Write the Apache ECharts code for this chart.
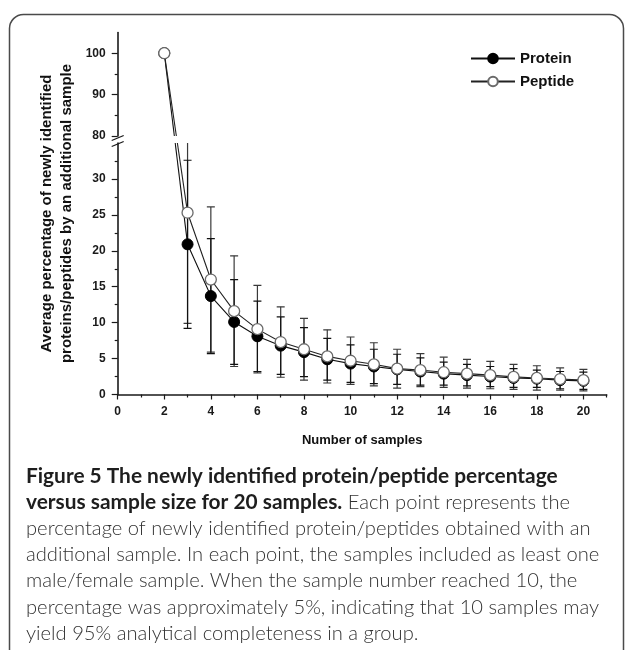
<!DOCTYPE html>
<html><head><meta charset="utf-8">
<script src="https://cdn.jsdelivr.net/npm/echarts@6/dist/echarts.min.js"></script>
<style>html,body{margin:0;padding:0;background:#fff}#c{width:625px;height:650px}</style>
</head><body><div id="c"></div>
<script>
// ---- data ----
const samples     = [2, 3, 4, 5, 6, 7, 8, 9, 10, 11, 12, 13, 14, 15, 16, 17, 18, 19, 20];
const proteinMean = [100, 20.9, 13.7, 10.1, 8.1, 6.8, 5.9, 4.9, 4.3, 3.9, 3.5, 3.2, 2.9, 2.7, 2.5, 2.3, 2.2, 2.0, 1.9];
const peptideMean = [100, 25.3, 16.0, 11.6, 9.1, 7.3, 6.3, 5.3, 4.7, 4.2, 3.6, 3.4, 3.1, 2.9, 2.7, 2.45, 2.3, 2.15, 2.0];
const proteinSD   = [0, 11.7, 8.0, 5.9, 4.9, 4.0, 3.4, 2.9, 2.6, 2.4, 2.1, 1.9, 1.6, 1.5, 1.4, 1.3, 1.2, 1.2, 1.2];
const peptideSD   = [0, 15.4, 10.1, 7.7, 6.1, 4.9, 4.3, 3.7, 3.3, 3.0, 2.7, 2.3, 2.1, 2.0, 1.9, 1.75, 1.7, 1.55, 1.5];
const seriesNames = ['Protein', 'Peptide'];
const xTickLabels = [0, 2, 4, 6, 8, 10, 12, 14, 16, 18, 20];
const xMinorTicks = [1, 3, 5, 7, 9, 11, 13, 15, 17, 19, 21];
const yUpperLabels = [80, 90, 100];
const yUpperMinor  = [85, 95];
const yLowerLabels = [0, 5, 10, 15, 20, 25, 30];
const yLowerMinor  = [2.5, 7.5, 12.5, 17.5, 22.5, 27.5, 32.5];
const upperRange = [80, 105];
const lowerRange = [0, 35];
const xRange = [0, 21];
const xTitle = 'Number of samples';
const yTitle = ['Average percentage of newly identified', 'proteins/peptides by an additional sample'];
const captionLines = [
  [['b', 'Figure 5 The newly identified protein/peptide percentage']],
  [['b', 'versus sample size for 20 samples.'], ['n', ' Each point represents the']],
  [['n', 'percentage of newly identified protein/peptides obtained with an']],
  [['n', 'additional sample. In each point, the samples included as least one']],
  [['n', 'male/female sample. When the sample number reached 10, the']],
  [['n', 'percentage was approximately 5%, indicating that 10 samples may']],
  [['n', 'yield 95% analytical completeness in a group.']]
];

// ---- helpers ----
const AX = 'Liberation Sans';
const CAPF = 'Lato';
const pts = m => samples.map((x, i) => [x, m[i]]);
const inUpper = p => p[1] >= upperRange[0];
const inLower = p => p[1] <= lowerRange[1];
const errData = (m, sd) => samples.map((x, i) => [x, m[i] - sd[i], m[i] + sd[i], sd[i]]).filter(d => d[3] > 0);

function errItem(color) {
  return function (params, api) {
    const x = api.value(0), lo = api.value(1), hi = api.value(2);
    const a = api.coord([x, lo]), b = api.coord([x, hi]);
    const hw = 4, st = { stroke: color, lineWidth: 1.2 };
    return { type: 'group', children: [
      { type: 'line', shape: { x1: a[0], y1: a[1], x2: b[0], y2: b[1] }, style: st },
      { type: 'line', shape: { x1: a[0] - hw, y1: a[1], x2: a[0] + hw, y2: a[1] }, style: st },
      { type: 'line', shape: { x1: b[0] - hw, y1: b[1], x2: b[0] + hw, y2: b[1] }, style: st }
    ]};
  };
}

const protStyle = { symbol: 'circle', symbolSize: 11, itemStyle: { color: '#000', borderColor: '#000', borderWidth: 1 }, lineStyle: { color: '#111', width: 1.1 } };
const pepStyle  = { symbol: 'circle', symbolSize: 11, itemStyle: { color: '#fff', borderColor: '#6a6a6a', borderWidth: 1.3 }, lineStyle: { color: '#222', width: 1.1 } };

const axisLineStyle = { show: true, lineStyle: { color: '#1a1a1a', width: 1.6 } };
const lblStyle = { fontFamily: AX, fontWeight: 'bold', fontSize: 12, color: '#1a1a1a' };

const chart = echarts.init(document.getElementById('c'), null, { renderer: 'canvas' });

const option = {
  animation: false,
  backgroundColor: '#fff',
  grid: [
    { left: 117.7, right: 18.3, top: 32.5, height: 103.5 },
    { left: 117.7, right: 18.3, top: 143, height: 251.5 }
  ],
  legend: {
    data: seriesNames, orient: 'vertical', left: 465, top: 46,
    itemWidth: 44, itemHeight: 12, itemGap: 8,
    textStyle: { fontFamily: AX, fontWeight: 'bold', fontSize: 15, color: '#111' }
  },
  xAxis: [
    { gridIndex: 0, type: 'value', min: xRange[0], max: xRange[1], show: false },
    { gridIndex: 1, type: 'value', min: xRange[0], max: xRange[1], position: 'bottom',
      axisLine: axisLineStyle, splitLine: { show: false },
      axisTick: { show: true, length: 5, customValues: xTickLabels, lineStyle: { color: '#1a1a1a', width: 1.2 } },
      axisLabel: Object.assign({ customValues: xTickLabels, margin: 11 }, lblStyle),
      name: xTitle, nameLocation: 'middle', nameGap: 39,
      nameTextStyle: { fontFamily: AX, fontWeight: 'bold', fontSize: 13, color: '#111' } },
    { gridIndex: 1, type: 'value', min: xRange[0], max: xRange[1], position: 'bottom', offset: 0,
      axisLine: { show: false }, splitLine: { show: false },
      axisTick: { show: true, length: 3, customValues: xMinorTicks, lineStyle: { color: '#1a1a1a', width: 1.2 } },
      axisLabel: { show: false } }
  ],
  yAxis: [
    { gridIndex: 0, type: 'value', position: 'left', min: upperRange[0], max: upperRange[1],
      axisLine: axisLineStyle, splitLine: { show: false },
      axisTick: { show: true, length: 6, customValues: yUpperLabels, lineStyle: { color: '#1a1a1a', width: 1.2 } },
      axisLabel: Object.assign({ customValues: yUpperLabels, margin: 12 }, lblStyle) },
    { gridIndex: 0, type: 'value', position: 'left', offset: 0, min: upperRange[0], max: upperRange[1],
      axisLine: { show: false }, splitLine: { show: false },
      axisTick: { show: true, length: 3, customValues: yUpperMinor, lineStyle: { color: '#1a1a1a', width: 1.2 } },
      axisLabel: { show: false } },
    { gridIndex: 1, type: 'value', position: 'left', min: lowerRange[0], max: lowerRange[1],
      axisLine: axisLineStyle, splitLine: { show: false },
      axisTick: { show: true, length: 6, customValues: yLowerLabels, lineStyle: { color: '#1a1a1a', width: 1.2 } },
      axisLabel: Object.assign({ customValues: yLowerLabels, margin: 12 }, lblStyle) },
    { gridIndex: 1, type: 'value', position: 'left', offset: 0, min: lowerRange[0], max: lowerRange[1],
      axisLine: { show: false }, splitLine: { show: false },
      axisTick: { show: true, length: 3, customValues: yLowerMinor, lineStyle: { color: '#1a1a1a', width: 1.2 } },
      axisLabel: { show: false } }
  ],
  series: [
    { type: 'custom', name: 'pepErr', xAxisIndex: 1, yAxisIndex: 2, clip: true, z: 1,
      renderItem: errItem('#3a3a3a'), encode: { x: 0, y: [1, 2] }, data: errData(peptideMean, peptideSD) },
    { type: 'custom', name: 'protErr', xAxisIndex: 1, yAxisIndex: 2, clip: true, z: 1,
      renderItem: errItem('#111'), encode: { x: 0, y: [1, 2] }, data: errData(proteinMean, proteinSD) },
    Object.assign({ type: 'line', name: seriesNames[0], xAxisIndex: 1, yAxisIndex: 2, z: 3, data: pts(proteinMean).filter(inLower) }, protStyle),
    Object.assign({ type: 'line', name: seriesNames[1], xAxisIndex: 1, yAxisIndex: 2, z: 4, data: pts(peptideMean).filter(inLower) }, pepStyle),
    Object.assign({ type: 'line', name: 'protTop', xAxisIndex: 0, yAxisIndex: 0, z: 3, data: pts(proteinMean).filter(inUpper) }, protStyle),
    Object.assign({ type: 'line', name: 'pepTop', xAxisIndex: 0, yAxisIndex: 0, z: 4, data: pts(peptideMean).filter(inUpper) }, pepStyle)
  ]
};
chart.setOption(option);

// ---- cross-break segments, break marks, titles, caption ----
const up = p => chart.convertToPixel({ xAxisIndex: 0, yAxisIndex: 0 }, p);
const lo = p => chart.convertToPixel({ xAxisIndex: 1, yAxisIndex: 2 }, p);
const yU = up([0, upperRange[0]])[1];
const yL = lo([0, lowerRange[1]])[1];
const axisX = lo([0, 0])[0];
const gfx = [];

function crossSegs(means, color) {
  const P = pts(means);
  for (let i = 0; i < P.length - 1; i++) {
    const a = P[i], b = P[i + 1];
    if (inUpper(a) && inLower(b)) {
      const pa = up(a), pb = lo(b);
      const xAt = y => pa[0] + (pb[0] - pa[0]) * (y - pa[1]) / (pb[1] - pa[1]);
      gfx.push({ type: 'line', z: 2, shape: { x1: pa[0], y1: pa[1], x2: xAt(yU), y2: yU }, style: { stroke: color, lineWidth: 1.1 } });
      gfx.push({ type: 'line', z: 2, shape: { x1: xAt(yL), y1: yL, x2: pb[0], y2: pb[1] }, style: { stroke: color, lineWidth: 1.1 } });
    }
  }
}
crossSegs(proteinMean, '#111');
crossSegs(peptideMean, '#222');

// break marks
[yU + 2, yL + 1].forEach(y => {
  gfx.push({ type: 'line', z: 5, shape: { x1: axisX - 6, y1: y + 2.5, x2: axisX + 6, y2: y - 2.5 }, style: { stroke: '#1a1a1a', lineWidth: 1.3 } });
});

// y title
gfx.push({ type: 'text', z: 5, x: 57, y: (up([0, upperRange[1]])[1] + lo([0, 0])[1]) / 2, rotation: Math.PI / 2,
  style: { text: yTitle.join('\n'), font: 'bold 15px "' + AX + '"', fill: '#111', align: 'center', verticalAlign: 'middle', lineHeight: 20 } });

// caption
const ctx = document.createElement('canvas').getContext('2d');
function fit(text, weight, target) { ctx.font = weight + ' 100px "' + CAPF + '"'; return 100 * target / ctx.measureText(text).width; }
const bSize = fit(captionLines[0][0][1], 'bold', 532);
const nSize = fit(captionLines[3][0][1], '300', 574);
captionLines.forEach((parts, i) => {
  gfx.push({ type: 'text', z: 5, x: 26, y: 476 + 26.2 * i,
    style: {
      text: parts.map(p => '{' + p[0] + '|' + p[1] + '}').join(''),
      verticalAlign: 'middle', align: 'left',
      rich: {
        b: { fontFamily: CAPF, fontWeight: 'bold', fontSize: bSize, fill: '#1e1e1e' },
        n: { fontFamily: CAPF, fontWeight: 300, fontSize: nSize, fill: '#333' }
      }
    } });
});

// frame
gfx.push({ type: 'rect', z: 0, shape: { x: 9.5, y: 14.5, width: 614, height: 700, r: 14 }, style: { fill: 'none', stroke: '#4a4a4a', lineWidth: 1.5 } });

chart.setOption({ graphic: { elements: gfx } });
</script>
</body></html>
